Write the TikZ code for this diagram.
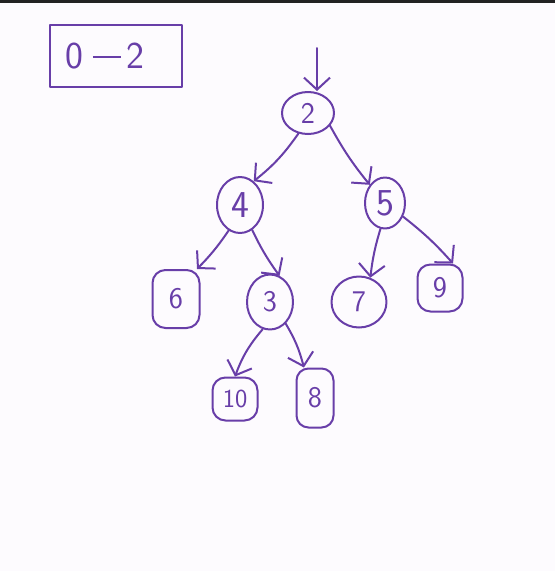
\documentclass[tikz,border=0pt]{standalone}
\usetikzlibrary{shapes.geometric,arrows.meta}
\definecolor{ink}{RGB}{104,62,168}
\definecolor{paper}{RGB}{253,251,254}
\definecolor{bar}{RGB}{34,34,34}
\begin{document}
\begin{tikzpicture}[x=1pt,y=-1pt,
  hand/.style={draw=ink,line width=2pt,line cap=round,line join=round},
  circ/.style={hand,ellipse,inner sep=0pt,text=ink,font=\sffamily\fontsize{30}{30}\selectfont},
  sq/.style={hand,rectangle,rounded corners=13pt,inner sep=0pt,text=ink,font=\sffamily\fontsize{30}{30}\selectfont},
  link/.style={hand,-{Straight Barb[length=12pt,width=26pt,line width=2pt]}}]
\fill[paper] (0,0) rectangle (555,571);
\fill[bar] (0,0) rectangle (555,3);
\useasboundingbox (0,0) rectangle (555,571);
% label box
\node[hand,rectangle,minimum width=132pt,minimum height=62pt,text=ink,
  font=\sffamily\fontsize{38}{38}\selectfont] (box) at (116,56)
  {0\kern10pt\textcolor{ink}{\rule[0.28em]{28pt}{2pt}}\kern5pt 2\kern23pt\relax};
% nodes
\node[circ,minimum width=52pt,minimum height=42pt] (n2) at (308,113) {2};
\node[circ,minimum width=46pt,minimum height=56pt,font=\sffamily\fontsize{38}{38}\selectfont] (n4) at (240,205) {4};
\node[circ,minimum width=40pt,minimum height=51pt,font=\sffamily\fontsize{38}{38}\selectfont] (n5) at (385,203) {5};
\node[sq,minimum width=47pt,minimum height=58pt] (n6) at (176,299) {6};
\node[circ,minimum width=46pt,minimum height=55pt] (n3) at (270,302) {3};
\node[circ,minimum width=55pt,minimum height=51pt] (n7) at (359,302) {7};
\node[sq,minimum width=45pt,minimum height=47pt] (n9) at (440,288) {9};
\node[sq,minimum width=45pt,minimum height=43pt,font=\sffamily\fontsize{26}{26}\selectfont] (n10) at (235,399) {10};
\node[sq,minimum width=37pt,minimum height=59pt,rounded corners=12pt] (n8) at (315,398) {8};
% edges
\coordinate (top) at (317,48);
\draw[link] (top) -- (top |- n2.north);
\draw[link] (n2.-115) to[bend left=8] (n4.60);
\draw[link] (n2.-30) to[bend right=5] (n5.130);
\draw[link] (n4.-114) to[bend left=5] (n6.55);
\draw[link] (n4.-64) to[bend right=5] (n3.70);
\draw[link] (n5.-100) to[bend right=5] (n7.65);
\draw[link] (n5.-37) to[bend left=5] (n9.62);
\draw[link] (n3.-105) to[bend right=10] (n10.90);
\draw[link] (n3.-54) to[bend left=8] (n8.110);
\end{tikzpicture}
\end{document}
